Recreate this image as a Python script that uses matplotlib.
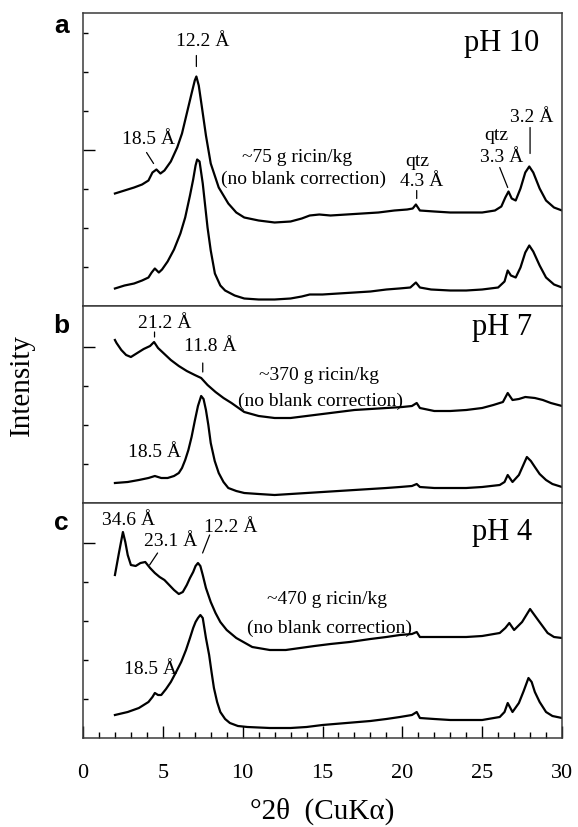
import matplotlib
matplotlib.use("Agg")
import matplotlib.pyplot as plt
from matplotlib.ticker import MultipleLocator

# 2theta (deg) / intensity (arb.)
a_top_x = [2.0, 2.6, 3.2, 3.7, 4.1, 4.35, 4.6, 4.85, 5.1, 5.5, 5.9, 6.2, 6.5, 6.8, 7.0,
           7.1, 7.25, 7.45, 7.7, 8.0, 8.5, 9.1, 9.6, 10.1, 11.0, 12.0, 13.0, 13.7, 14.2,
           14.8, 15.5, 16.5, 17.5, 18.5, 19.5, 20.3, 20.65, 20.85, 21.1, 22.0, 23.0, 24.0,
           25.0, 25.8, 26.2, 26.45, 26.65, 26.85, 27.1, 27.4, 27.7, 27.95, 28.2, 28.6,
           29.0, 29.5, 30.0]
a_top_y = [112, 115, 118, 121, 125, 133, 136, 132, 135, 144, 158, 172, 192, 212, 225,
           229, 220, 198, 170, 142, 118, 102, 93, 88, 85, 83, 84, 87, 90,
           91, 90, 91, 92, 93, 95, 96, 97, 101, 95, 94, 93, 93,
           93, 95, 99, 108, 114, 107, 105, 117, 133, 139, 133, 117,
           105, 98, 95]
a_bot_x = [2.0, 2.6, 3.2, 3.7, 4.1, 4.3, 4.5, 4.75, 4.95, 5.3, 5.7, 6.1, 6.4, 6.7, 6.9,
           7.05, 7.15, 7.3, 7.5, 7.8, 8.0, 8.26, 8.6, 8.9, 9.5, 10.1, 11.0, 12.0, 13.0,
           13.7, 14.2, 15.0, 16.0, 17.0, 18.0, 19.0, 19.8, 20.5, 20.85, 21.1, 21.8, 23.0,
           24.0, 25.0, 26.0, 26.4, 26.6, 26.8, 27.1, 27.4, 27.7, 27.95, 28.2, 28.6, 29.0,
           29.5, 30.0]
a_bot_y = [17, 20, 22, 25, 28, 33, 37, 33, 36, 44, 56, 72, 88, 110, 126,
           140, 146, 144, 122, 78, 55, 32, 20, 15, 10, 7, 6, 6, 7,
           9, 11, 11, 12, 13, 14, 16, 17, 18, 23, 18, 16, 15,
           15, 16, 18, 24, 35, 30, 28, 38, 53, 60, 54, 40, 28,
           21, 18]

b_top_x = [2.0, 2.1, 2.4, 2.7, 3.0, 3.4, 3.8, 4.2, 4.45, 4.7, 5.1, 5.5, 6.0, 6.5, 7.0,
           7.4, 7.8, 8.3, 8.8, 9.3, 10.1, 11.0, 12.0, 13.0, 14.0, 15.0, 16.0, 17.0, 18.0,
           19.0, 20.0, 20.6, 20.9, 21.1, 22.0, 23.0, 24.0, 25.0, 25.7, 26.3, 26.6, 26.9,
           27.3, 27.7, 28.3, 28.8, 29.3, 30.0]
b_top_y = [163, 160, 153, 148, 146, 150, 154, 157, 161, 155, 149, 143, 137, 132, 128,
           125, 118, 111, 105, 100, 91, 87, 85, 85, 87, 89, 91, 93, 94,
           95, 96, 97, 100, 95, 92, 92, 93, 95, 98, 101, 110, 103,
           104, 106, 105, 103, 100, 97]
b_bot_x = [2.0, 2.8, 3.5, 4.1, 4.5, 4.9, 5.3, 5.7, 6.0, 6.2, 6.4, 6.6, 6.8, 7.0, 7.2,
           7.4, 7.55, 7.7, 7.85, 8.0, 8.25, 8.5, 8.8, 9.1, 9.6, 10.1, 11.0, 12.0, 13.0,
           14.0, 15.0, 16.0, 17.0, 18.0, 19.0, 19.85, 20.6, 20.9, 21.1, 22.0, 23.0, 24.0,
           25.0, 26.1, 26.4, 26.6, 26.9, 27.3, 27.55, 27.8, 28.05, 28.3, 28.6, 29.0, 29.4,
           30.0]
b_bot_y = [20, 21, 23, 25, 27, 25, 25, 27, 30, 35, 43, 53, 66, 82, 97,
           107, 104, 93, 78, 60, 42, 30, 21, 15, 12, 10, 9, 8, 9,
           10, 11, 12, 13, 14, 15, 16, 17, 19, 16, 15, 15, 15,
           16, 18, 21, 28, 21, 28, 37, 46, 42, 36, 29, 23, 19,
           16]

c_top_x = [2.0, 2.25, 2.5, 2.65, 2.8, 3.0, 3.3, 3.6, 3.9, 4.2, 4.5, 4.8, 5.1, 5.4, 5.7,
           6.0, 6.25, 6.5, 6.7, 6.9, 7.05, 7.2, 7.35, 7.5, 7.7, 8.0, 8.3, 8.6, 9.0, 9.6,
           10.6, 11.7, 12.7, 13.6, 14.5, 15.5, 16.7, 18.0, 19.0, 19.85, 20.6, 20.9, 21.1,
           22.0, 23.0, 24.0, 25.0, 26.1, 26.45, 26.7, 27.0, 27.5, 28.0, 28.5, 29.1, 29.5,
           30.0]
c_top_y = [163, 185, 206, 196, 183, 173, 172, 175, 176, 170, 165, 161, 158, 153, 148,
           144, 146, 153, 160, 166, 172, 175, 172, 163, 150, 136, 125, 116, 108, 100,
           91, 88, 88, 90, 92, 94, 96, 99, 101, 103, 104, 106, 101,
           101, 101, 101, 102, 105, 110, 115, 108, 116, 129, 118, 105, 101,
           100]
c_bot_x = [2.0, 2.8, 3.5, 4.1, 4.35, 4.5, 4.7, 4.9, 5.2, 5.5, 5.8, 6.15, 6.45, 6.7, 6.9,
           7.05, 7.2, 7.35, 7.5, 7.7, 7.9, 8.05, 8.2, 8.4, 8.6, 8.9, 9.2, 9.7, 10.3, 11.7,
           13.0, 14.0, 15.0, 16.5, 18.0, 19.0, 19.85, 20.6, 20.9, 21.1, 22.0, 23.0, 24.0,
           25.0, 26.1, 26.4, 26.6, 26.9, 27.3, 27.6, 27.9, 28.1, 28.3, 28.6, 29.0, 29.4,
           30.0]
c_bot_y = [23, 26, 30, 36, 41, 45, 43, 43, 49, 56, 65, 76, 88, 100, 110,
           116, 120, 123, 120, 100, 83, 66, 50, 36, 26, 19, 15, 12, 11, 10,
           10, 11, 13, 15, 17, 19, 21, 23, 26, 20, 19, 18, 18,
           18, 21, 26, 35, 26, 35, 47, 60, 56, 46, 36, 26, 22,
           20]

panel_letters = ["a", "b", "c"]
ph_labels = ["pH 10", "pH 7", "pH 4"]
ricin_labels = ["~75 g ricin/kg", "~370 g ricin/kg", "~470 g ricin/kg"]

plt.rcParams["font.family"] = ["Liberation Serif", "DejaVu Serif"]

W, H = 578, 827
fig = plt.figure(figsize=(W / 100, H / 100), dpi=100)


def box(top, bottom):
    return [83 / W, 1 - bottom / H, 479 / W, (bottom - top) / H]


ax_a = fig.add_axes(box(12.5, 305.5))
ax_b = fig.add_axes(box(305.5, 503))
ax_c = fig.add_axes(box(503, 738))

panels = [
    (ax_a, a_top_x, a_top_y, a_bot_x, a_bot_y, 293, [156], [39, 78, 117, 195, 234, 273]),
    (ax_b, b_top_x, b_top_y, b_bot_x, b_bot_y, 197.5, [156], [39, 78, 117]),
    (ax_c, c_top_x, c_top_y, c_bot_x, c_bot_y, 235, [195], [39, 78, 117, 156]),
]

for ax, tx, ty, bx, by, ymax, ymaj, ymin in panels:
    ax.plot(tx, ty, color="k", lw=1.6)
    ax.plot(bx, by, color="k", lw=1.6)
    ax.set_xlim(0, 30)
    ax.set_ylim(0, ymax)
    ax.set_yticks(ymaj)
    ax.set_yticks(ymin, minor=True)
    ax.tick_params(axis="y", which="major", direction="in", length=8.5, width=1,
                   left=True, right=False, labelleft=False)
    ax.tick_params(axis="y", which="minor", direction="in", length=3.5, width=1,
                   left=True, right=False)
    for s in ax.spines.values():
        s.set_color("#3a3a3a")
        s.set_linewidth(1.1)
    if ax is not ax_c:
        ax.tick_params(axis="x", which="both", bottom=False, labelbottom=False)

ax_c.set_xticks(range(0, 31, 5))
ax_c.xaxis.set_minor_locator(MultipleLocator(1))
ax_c.tick_params(axis="x", which="major", direction="in", length=9, width=1,
                 labelsize=16, pad=19)
ax_c.tick_params(axis="x", which="minor", direction="in", length=4.5, width=1)

fs = 14
lead = dict(arrowstyle="-", color="k", lw=0.9, shrinkA=0, shrinkB=0)

# panel a
ax_a.text(7.5, 260, "12.2 Å", ha="center", va="baseline", fontsize=fs)
ax_a.annotate("", xy=(7.1, 239), xytext=(7.1, 250), arrowprops=lead)
ax_a.text(4.1, 162, "18.5 Å", ha="center", va="baseline", fontsize=fs)
ax_a.annotate("", xy=(4.42, 142), xytext=(3.98, 153), arrowprops=lead)
ax_a.text(13.4, 143, ricin_labels[0], ha="center", va="baseline", fontsize=fs)
ax_a.text(13.8, 122, "(no blank correction)", ha="center", va="baseline", fontsize=fs)
ax_a.text(20.95, 140, "qtz", ha="center", va="baseline", fontsize=fs)
ax_a.text(21.2, 119, "4.3 Å", ha="center", va="baseline", fontsize=fs)
ax_a.annotate("", xy=(20.9, 107), xytext=(20.9, 115), arrowprops=lead)
ax_a.text(25.9, 165, "qtz", ha="center", va="baseline", fontsize=fs)
ax_a.text(26.2, 143, "3.3 Å", ha="center", va="baseline", fontsize=fs)
ax_a.annotate("", xy=(26.6, 118), xytext=(26.1, 138), arrowprops=lead)
ax_a.text(28.1, 183, "3.2 Å", ha="center", va="baseline", fontsize=fs)
ax_a.annotate("", xy=(28.0, 152), xytext=(28.0, 178), arrowprops=lead)

# panel b
ax_b.text(5.1, 175, "21.2 Å", ha="center", va="baseline", fontsize=fs)
ax_b.annotate("", xy=(4.48, 166), xytext=(4.48, 171), arrowprops=lead)
ax_b.text(8.0, 152, "11.8 Å", ha="center", va="baseline", fontsize=fs)
ax_b.annotate("", xy=(7.5, 131), xytext=(7.5, 140), arrowprops=lead)
ax_b.text(14.8, 123, ricin_labels[1], ha="center", va="baseline", fontsize=fs)
ax_b.text(14.9, 97, "(no blank correction)", ha="center", va="baseline", fontsize=fs)
ax_b.text(4.5, 46, "18.5 Å", ha="center", va="baseline", fontsize=fs)

# panel c
ax_c.text(2.85, 213, "34.6 Å", ha="center", va="baseline", fontsize=fs)
ax_c.text(5.5, 192, "23.1 Å", ha="center", va="baseline", fontsize=fs)
ax_c.annotate("", xy=(4.17, 173), xytext=(4.67, 185), arrowprops=lead)
ax_c.text(9.25, 206, "12.2 Å", ha="center", va="baseline", fontsize=fs)
ax_c.annotate("", xy=(7.49, 185), xytext=(7.93, 203), arrowprops=lead)
ax_c.text(15.3, 134, ricin_labels[2], ha="center", va="baseline", fontsize=fs)
ax_c.text(15.45, 105, "(no blank correction)", ha="center", va="baseline", fontsize=fs)
ax_c.text(4.2, 64, "18.5 Å", ha="center", va="baseline", fontsize=fs)

for ax, lab, yb in zip([ax_a, ax_b, ax_c], ph_labels, [255, 168, 198]):
    ax.text(28.6 if ax is ax_a else 28.1, yb, lab, ha="right", va="baseline", fontsize=22)

for lab, yb in zip(panel_letters, [33, 333, 530]):
    fig.text(69 / W, 1 - yb / H, lab, ha="right", va="baseline", fontsize=19,
             fontweight="bold", family=["Liberation Sans", "DejaVu Sans"])

fig.text(22 / W, 1 - 385 / H, "Intensity", rotation=90, ha="center", va="center", fontsize=21)
fig.text(322.5 / W, 1 - 811 / H, "°2θ  (CuKα)", ha="center", va="center", fontsize=21)

fig.savefig("out.png", dpi=100)
